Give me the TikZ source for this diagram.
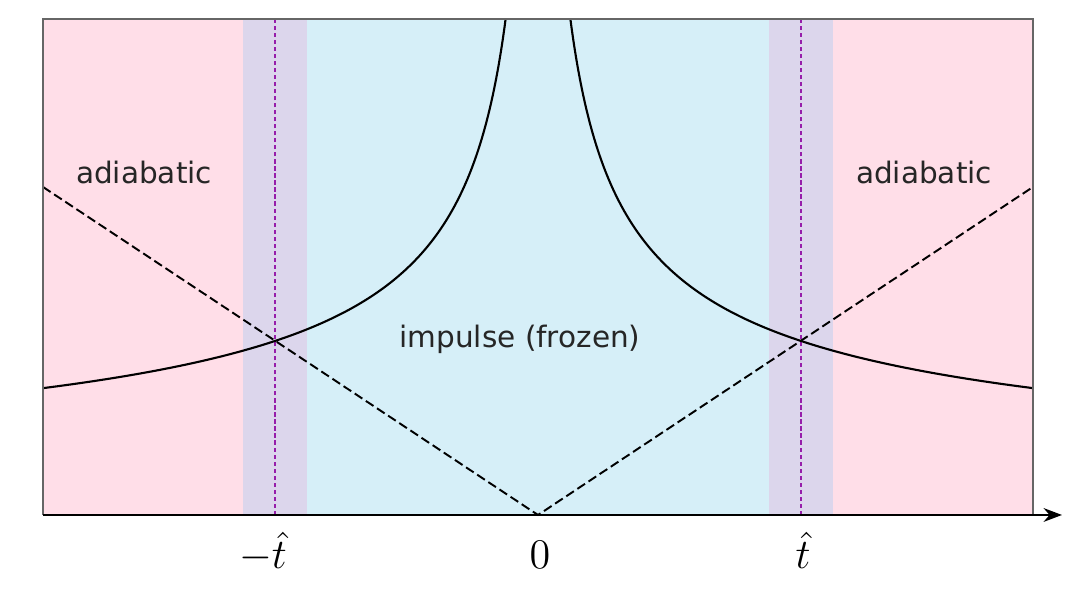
\documentclass[tikz,border=0pt]{standalone}
\usepackage{amsmath,amssymb}
\usepackage{fontspec}
\newfontfamily\plotfont{DejaVu Sans}
\usetikzlibrary{arrows.meta}
\definecolor{adiapink}{RGB}{255,222,232}
\definecolor{impblue}{RGB}{214,239,248}
\definecolor{crossband}{RGB}{220,214,236}
\definecolor{hatpurple}{RGB}{150,30,170}

\begin{document}
\begin{tikzpicture}[>=Stealth,
    regime/.style={font=\plotfont\fontsize{8.4}{10}\selectfont,text=black!85,anchor=base},
    ticklabel/.style={font=\fontsize{12}{14}\selectfont,anchor=base}]
            \useasboundingbox (-5.38,-0.84) rectangle (5.30,5.15);
            \coordinate (O) at (0,0);
            \coordinate (L) at (-4.95,3.28);
            \coordinate (R) at (4.95,3.28);
            \fill [adiapink] (-4.95,0) rectangle (-2.95,4.96);
            \fill [adiapink] (2.95,0) rectangle (4.95,4.96);
            \fill [impblue] (-2.31,0) rectangle (2.31,4.96);
            \fill [crossband] (-2.95,0) rectangle (-2.31,4.96);
            \fill [crossband] (2.31,0) rectangle (2.95,4.96);
            \draw [hatpurple,line width=0.35pt,dash pattern=on 1.2pt off 0.8pt] (-2.63,0) -- (-2.63,4.96);
            \draw [hatpurple,line width=0.35pt,dash pattern=on 1.2pt off 0.8pt] (2.63,0) -- (2.63,4.96);
            \begin{scope}
                \clip (-4.95,0) rectangle (4.95,4.96);
                \draw [line width=0.6pt] plot [domain=-4.95:-0.3,samples=150,smooth] (\x,{2.822/sqrt(-\x)});
                \draw [line width=0.6pt] plot [domain=0.3:4.95,samples=150,smooth] (\x,{2.822/sqrt(\x)});
            \end{scope}
            \draw [line width=0.55pt,dash pattern=on 2.6pt off 1.2pt] (L) -- (O) -- (R);
            \draw [black!60,line width=0.4pt] (-4.95,0) -- (-4.95,4.96) -- (4.95,4.96) -- (4.95,0);
            \draw [->,line width=0.5pt] (-4.95,0) -- (5.24,0);
            \node [regime] (adiaL) at (-3.94,3.31) {adiabatic};
            \node [regime] (adiaR) at (3.86,3.31) {adiabatic};
            \node [regime] (impulse) at (-0.18,1.67) {impulse (frozen)};
            \node [ticklabel] (tminus) at (-2.75,-0.54) {$-\hat{t}$};
            \node [ticklabel] (tzero) at (0.02,-0.54) {$0$};
            \node [ticklabel] (tplus) at (2.65,-0.54) {$\hat{t}$};
        \end{tikzpicture}
\end{document}
